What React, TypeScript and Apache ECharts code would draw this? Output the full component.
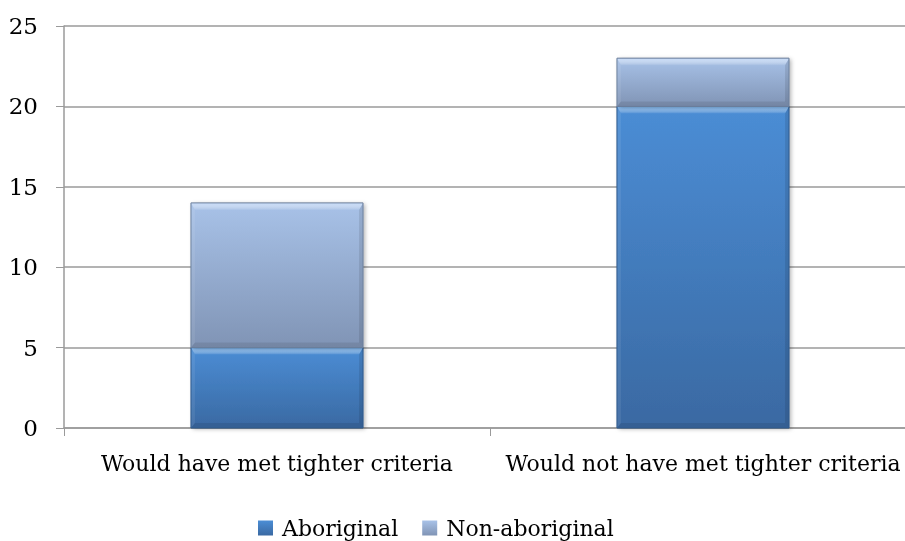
import React, { useEffect, useRef } from "react";
import * as echarts from "echarts";

const categories = ["Would have met tighter criteria", "Would not have met tighter criteria"];
const aboriginal = [5, 20];
const nonAboriginal = [9, 3];
const yTicks = { min: 0, max: 25, interval: 5 };
const seriesNames = ["Aboriginal", "Non-aboriginal"];

const FONT = "DejaVu Serif";

const grad = (top: string, bottom: string) =>
  new echarts.graphic.LinearGradient(0, 0, 0, 1, [
    { offset: 0, color: top },
    { offset: 1, color: bottom },
  ]);

const palettes = [
  { top: "#4b8dd5", bottom: "#3a69a2", border: "#2f5a8c", hi: "#7bb6f2" },
  { top: "#a8c2e8", bottom: "#8094b5", border: "#6c7f9c", hi: "#c3d8f6" },
];

function makeRender(pi: number) {
  const pal = palettes[pi];
  return (params: any, api: any) => {
    const cat = api.value(0);
    const base = api.value(1);
    const top = api.value(2);
    const pT = api.coord([cat, top]);
    const pB = api.coord([cat, base]);
    const w = api.size([1, 0])[0] * 0.404;
    const x0 = pT[0] - w / 2;
    const x1 = pT[0] + w / 2;
    const yT = pT[1];
    const yB = pB[1];
    const h = yB - yT;
    const b = 7, s = 4, d = 5;
    return {
      type: "group",
      children: [
        {
          type: "rect",
          shape: { x: x0, y: yT, width: w, height: h },
          style: {
            fill: grad(pal.top, pal.bottom),
            shadowBlur: 4,
            shadowOffsetX: 2,
            shadowOffsetY: 1,
            shadowColor: "rgba(0,0,0,0.3)",
          },
        },
        {
          type: "polygon",
          shape: { points: [[x0, yT], [x1, yT], [x1 - s, yT + b], [x0 + s, yT + b]] },
          style: {
            fill: new echarts.graphic.LinearGradient(0, 0, 0, 1, [
              { offset: 0, color: pal.hi },
              { offset: 1, color: "rgba(255,255,255,0.05)" },
            ]),
          },
        },
        {
          type: "polygon",
          shape: { points: [[x0, yB], [x1, yB], [x1 - s, yB - d], [x0 + s, yB - d]] },
          style: { fill: "rgba(0,0,0,0.09)" },
        },
        {
          type: "polygon",
          shape: { points: [[x0, yT], [x0 + s, yT + b], [x0 + s, yB - d], [x0, yB]] },
          style: { fill: "rgba(255,255,255,0.08)" },
        },
        {
          type: "polygon",
          shape: { points: [[x1, yT], [x1 - s, yT + b], [x1 - s, yB - d], [x1, yB]] },
          style: { fill: "rgba(0,0,0,0.1)" },
        },
        {
          type: "rect",
          shape: { x: x0, y: yT, width: w, height: h },
          style: { fill: "none", stroke: pal.border, lineWidth: 1 },
        },
      ],
    };
  };
}

export default function App() {
  const ref = useRef<HTMLDivElement>(null);
  useEffect(() => {
    const chart = echarts.init(ref.current!, null, { renderer: "svg" });
    const aboData = categories.map((_, i) => [i, 0, aboriginal[i]]);
    const nonData = categories.map((_, i) => [i, aboriginal[i], aboriginal[i] + nonAboriginal[i]]);
    chart.setOption({
      animation: false,
      textStyle: { fontFamily: FONT },
      grid: { left: 64, top: 26, width: 852, height: 402, outerBoundsMode: "none", containLabel: false },
      legend: {
        top: 512,
        left: 253,
        itemWidth: 15,
        itemHeight: 15,
        itemGap: 24,
        icon: "rect",
        textStyle: { fontFamily: FONT, fontSize: 22, color: "#000", padding: [0, 0, 0, 4] },
        data: seriesNames,
      },
      xAxis: {
        type: "category",
        data: categories,
        axisLine: { lineStyle: { color: "#9a9a9a", width: 1.5 } },
        axisTick: { show: true, length: 8, lineStyle: { color: "#9a9a9a" } },
        axisLabel: { fontFamily: FONT, fontSize: 22, color: "#000", margin: 24, interval: 0 },
      },
      yAxis: {
        type: "value",
        min: yTicks.min,
        max: yTicks.max,
        interval: yTicks.interval,
        axisLine: { show: true, lineStyle: { color: "#9a9a9a", width: 1.5 } },
        axisTick: { show: true, length: 8, lineStyle: { color: "#9a9a9a" } },
        splitLine: { lineStyle: { color: "#9a9a9a", width: 1.5 } },
        axisLabel: { fontFamily: FONT, fontSize: 23, color: "#000", margin: 26 },
      },
      series: [
        {
          name: seriesNames[0],
          type: "custom",
          renderItem: makeRender(0),
          encode: { x: 0, y: [1, 2] },
          data: aboData,
          itemStyle: { color: grad(palettes[0].top, palettes[0].bottom) },
          z: 3,
        },
        {
          name: seriesNames[1],
          type: "custom",
          renderItem: makeRender(1),
          encode: { x: 0, y: [1, 2] },
          data: nonData,
          itemStyle: { color: grad(palettes[1].top, palettes[1].bottom) },
          z: 3,
        },
      ],
    });
    return () => chart.dispose();
  }, []);
  return <div ref={ref} style={{ position: "fixed", left: 0, top: 0, width: 905, height: 541 }} />;
}
